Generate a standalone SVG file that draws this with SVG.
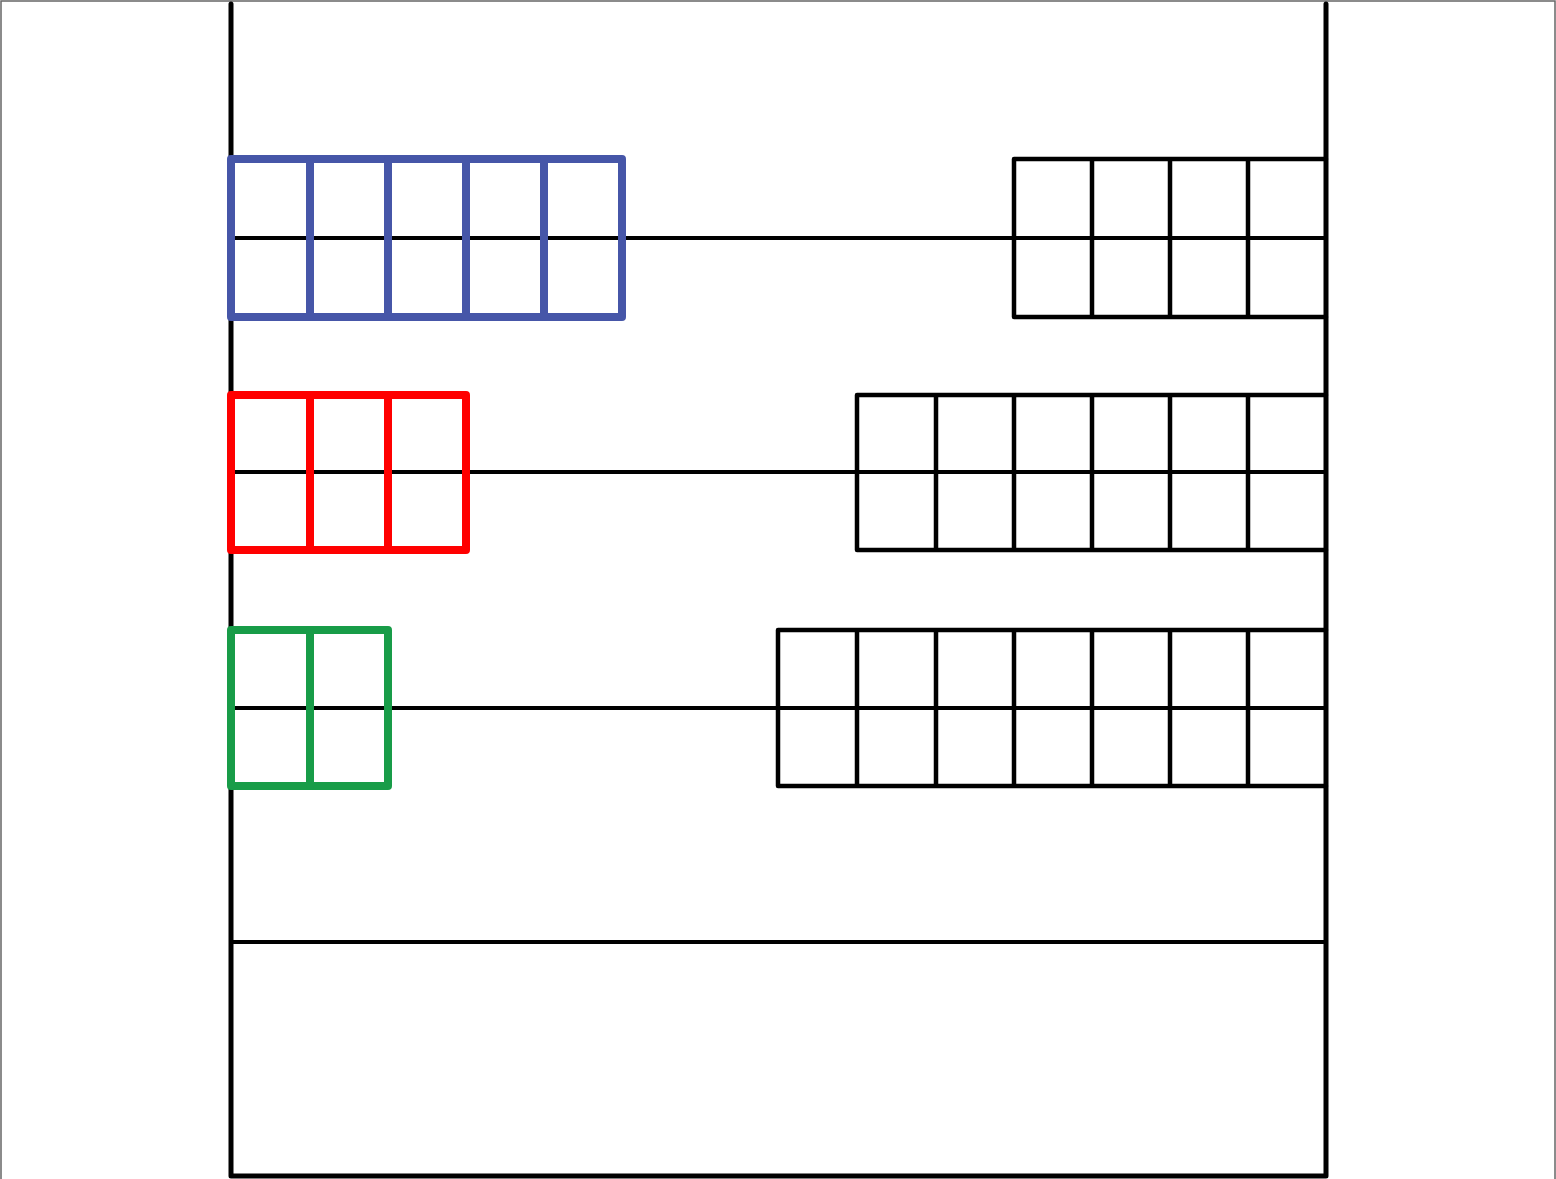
<svg xmlns="http://www.w3.org/2000/svg" width="1556" height="1179" viewBox="0 0 1556 1179">
<style>
.frame{fill:none;stroke:#666;stroke-width:1.5}
.outer{fill:none;stroke:#000;stroke-width:5;stroke-linecap:round;stroke-linejoin:round}
.bk{fill:none;stroke:#000;stroke-width:4.5;stroke-linecap:round;stroke-linejoin:round}
.rod{fill:none;stroke:#000;stroke-width:4}
.blue{fill:none;stroke:#4656a8;stroke-width:8;stroke-linejoin:round;stroke-linecap:round}
.red{fill:none;stroke:#ff0000;stroke-width:8;stroke-linejoin:round;stroke-linecap:round}
.green{fill:none;stroke:#189c48;stroke-width:8;stroke-linejoin:round;stroke-linecap:round}
</style>
<rect x="1" y="1" width="1554" height="1180" fill="#fff" class="frame"/>
<g id="connectors">
<path class="outer" d="M231,4 V1176 H1326 V4"/>
<path class="rod" d="M231,942 H1326"/>
<path class="rod" d="M231,238 H1326"/>
<path class="rod" d="M231,472 H1326"/>
<path class="rod" d="M231,708 H1326"/>
</g>
<g id="blue-beads">
<rect class="blue" x="231" y="159" width="391" height="158"/>
<path class="blue" d="M310,159V317M388,159V317M466,159V317M544,159V317"/>
</g>
<g id="red-beads">
<rect class="red" x="231" y="395" width="235" height="155"/>
<path class="red" d="M310,395V550M388,395V550"/>
</g>
<g id="green-beads">
<rect class="green" x="231" y="630" width="157" height="156"/>
<path class="green" d="M310,630V786"/>
</g>
<g id="black-beads-1">
<path class="bk" d="M1326,159H1014V317H1326M1092,159V317M1170,159V317M1248,159V317"/>
</g>
<g id="black-beads-2">
<path class="bk" d="M1326,395H857V550H1326M936,395V550M1014,395V550M1092,395V550M1170,395V550M1248,395V550"/>
</g>
<g id="black-beads-3">
<path class="bk" d="M1326,630H778V786H1326M857,630V786M936,630V786M1014,630V786M1092,630V786M1170,630V786M1248,630V786"/>
</g>
</svg>
